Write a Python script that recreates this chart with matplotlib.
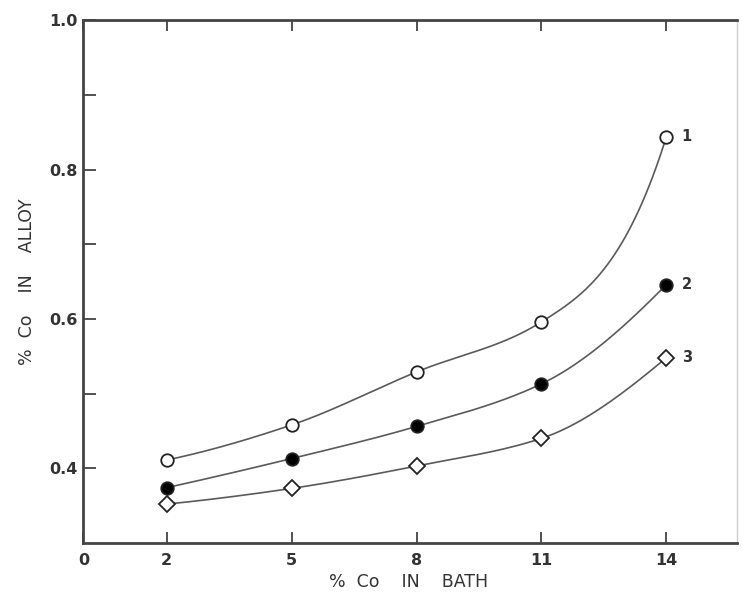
# % Co in alloy vs % Co in bath, three curves
import matplotlib.pyplot as plt
import numpy as np

# data
bath = [2, 5, 8, 11, 14]
alloy_1 = [0.411, 0.458, 0.529, 0.596, 0.844]
alloy_2 = [0.374, 0.413, 0.456, 0.513, 0.646]
alloy_3 = [0.352, 0.373, 0.403, 0.440, 0.548]
curve_names = ['1', '2', '3']

x_ticks = [0, 2, 5, 8, 11, 14]
y_major = [0.4, 0.6, 0.8, 1.0]
y_minor = [0.5, 0.7, 0.9]


def smooth(x, y, xs, bend):
    # monotone cubic hermite through the points; 'bend' sets how hard
    # the last segment turns up (the curves were drawn by hand)
    x = np.asarray(x, float)
    y = np.asarray(y, float)
    h = np.diff(x)
    d = np.diff(y) / h
    m = np.zeros_like(y)
    for k in range(1, len(x) - 1):
        if d[k - 1] * d[k] > 0:
            w1 = 2 * h[k] + h[k - 1]
            w2 = h[k] + 2 * h[k - 1]
            m[k] = (w1 + w2) / (w1 / d[k - 1] + w2 / d[k])
    m[0] = ((2 * h[0] + h[1]) * d[0] - h[0] * d[1]) / (h[0] + h[1])
    m[-1] = d[-1] + bend * (d[-1] - m[-2])
    idx = np.clip(np.searchsorted(x, xs) - 1, 0, len(x) - 2)
    t = (xs - x[idx]) / h[idx]
    h00 = 2 * t**3 - 3 * t**2 + 1
    h10 = t**3 - 2 * t**2 + t
    h01 = -2 * t**3 + 3 * t**2
    h11 = t**3 - t**2
    return h00 * y[idx] + h10 * h[idx] * m[idx] + h01 * y[idx + 1] + h11 * h[idx] * m[idx + 1]


plt.rcParams['font.family'] = ['DejaVu Sans']
ink = '#333333'

fig = plt.figure(figsize=(7.42, 5.94), dpi=100)
ax = fig.add_axes([0.1125, 0.086, 0.881, 0.880])

xs = np.linspace(2, 14, 400)
styles = [
    dict(marker='o', mfc='white', ms=9),
    dict(marker='o', mfc='black', ms=9),
    dict(marker='D', mfc='white', ms=8),
]
bends = [2.0, 0.7, 0.6]
series = [alloy_1, alloy_2, alloy_3]
for ys, st, bend, name in zip(series, styles, bends, curve_names):
    ax.plot(xs, smooth(bath, ys, xs, bend), color='#5a5a5a', lw=1.2, zorder=2)
    ax.plot(bath, ys, ls='none', mec='#222222', mew=1.3, zorder=3, **st)
    ax.annotate(name, (bath[-1], ys[-1]), xytext=(11, 0), textcoords='offset points',
                va='center', ha='left', fontsize=10.5, fontweight='bold', color=ink)

ax.set_xlim(0, 15.7)
ax.set_ylim(0.3, 1.0)
ax.set_xticks(x_ticks)
ax.set_xticklabels([str(v) for v in x_ticks])
ax.set_yticks(y_major)
ax.set_yticklabels([f'{v:.1f}' for v in y_major])
ax.set_yticks(y_minor, minor=True)

ax.tick_params(axis='both', which='both', direction='in', color=ink, width=1.2,
               labelcolor=ink, labelsize=11.5)
ax.tick_params(axis='x', which='major', length=8, pad=7, top=True)
ax.tick_params(axis='y', which='both', length=9, pad=4)
for lab in ax.get_xticklabels() + ax.get_yticklabels():
    lab.set_fontweight('bold')

for side in ['left', 'bottom', 'top']:
    ax.spines[side].set_color('#444444')
    ax.spines[side].set_linewidth(2)
ax.spines['right'].set_color('#cccccc')
ax.spines['right'].set_linewidth(1)

ax.set_xlabel('%  Co    IN    BATH', fontsize=12.5, color=ink)
ax.xaxis.set_label_coords(0.497, -0.058)
ax.set_ylabel('%  Co    IN    ALLOY', fontsize=12.5, color=ink)
ax.yaxis.set_label_coords(-0.073, 0.5)

plt.savefig('out.png')
